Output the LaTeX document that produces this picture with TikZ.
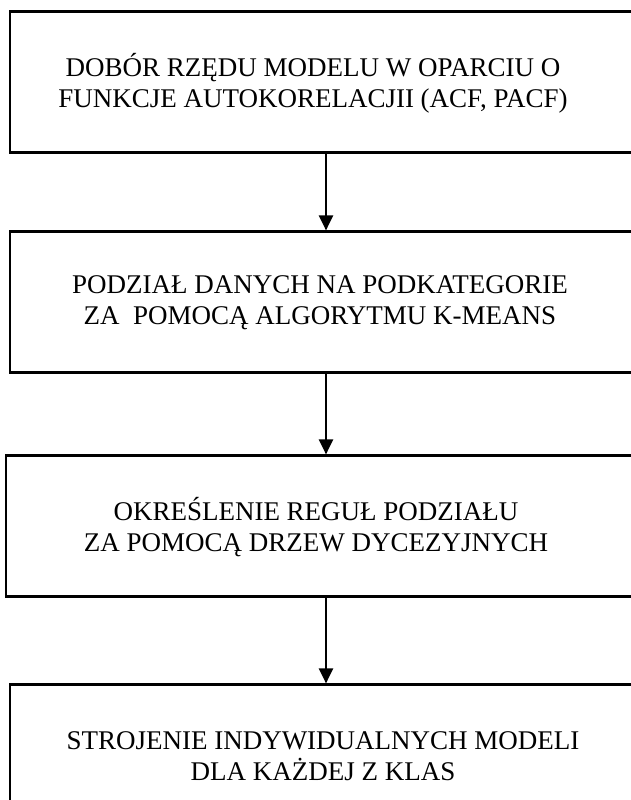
\documentclass[tikz,border=0pt]{standalone}
\usepackage{fontspec}
\setmainfont{Liberation Serif}
\usetikzlibrary{arrows.meta}
\begin{document}
\begin{tikzpicture}[x=1pt,y=-1pt,
  stepbox/.style={draw=black,line width=2.2pt,minimum width=630pt,minimum height=141pt,inner sep=0pt},
  steptext/.style={align=center,inner sep=0pt,font=\fontsize{27}{31}\selectfont},
  flow/.style={line width=2.2pt,-{Triangle[width=14pt,length=15pt]}}]
\useasboundingbox (0,0) rectangle (630,800);
\node[stepbox] (a) at (325,82) {};
\node[steptext] (ta) at ([xshift=-12pt,yshift=-1pt]a.center) {DOBÓR RZĘDU MODELU W OPARCIU O\\FUNKCJE AUTOKORELACJII (ACF, PACF)};
\node[stepbox] (b) at (325,302) {};
\node[steptext] (tb) at ([xshift=-5pt,yshift=-1pt]b.center) {PODZIAŁ DANYCH NA PODKATEGORIE\\ZA\ \ POMOCĄ ALGORYTMU K-MEANS};
\node[stepbox] (c) at (321,526) {};
\node[steptext] (tc) at ([xshift=-5pt,yshift=-1pt]c.center) {OKREŚLENIE REGUŁ PODZIAŁU\\ZA POMOCĄ DRZEW DYCEZYJNYCH};
\node[stepbox] (d) at (325,755) {};
\node[steptext] (td) at ([xshift=-2pt,yshift=-1pt]d.center) {STROJENIE INDYWIDUALNYCH MODELI\\DLA KAŻDEJ Z KLAS};
\draw[flow] (a.south -| 326,0) -- (b.north -| 326,0);
\draw[flow] (b.south -| 326,0) -- (c.north -| 326,0);
\draw[flow] (c.south -| 326,0) -- (d.north -| 326,0);
\end{tikzpicture}
\end{document}
